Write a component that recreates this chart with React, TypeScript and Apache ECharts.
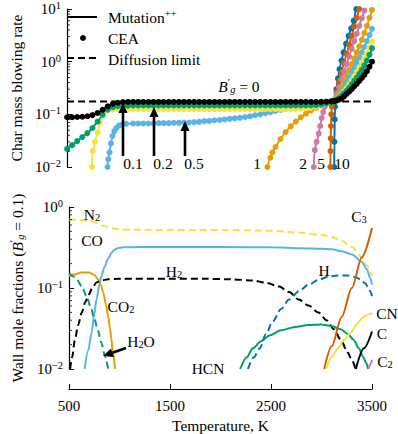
import React, { useEffect, useRef } from "react";
import * as echarts from "echarts";

const FONT = "Liberation Serif, DejaVu Serif, serif";

// ---------- Top panel: char blowing rate vs temperature for several B'_g ----------
const BG_LABELS = ["0", "0.1", "0.2", "0.5", "1", "2", "5", "10"];
const BG_COLORS = ["#000000", "#009E73", "#F0E442", "#56B4E9", "#E69F00", "#CC79A7", "#D55E00", "#0072B2"];

const BG0 = [[500,0.088],[550,0.088],[600,0.089],[650,0.09],[700,0.092],[750,0.097],[800,0.106],[850,0.122],[900,0.142],[950,0.158],[1000,0.166],[1050,0.17],[1100,0.172],[1150,0.172],[1200,0.172],[1250,0.172],[1300,0.172],[1350,0.172],[1400,0.172],[1450,0.172],[1500,0.172],[1550,0.172],[1600,0.172],[1650,0.172],[1700,0.172],[1750,0.172],[1800,0.172],[1850,0.172],[1900,0.172],[1950,0.172],[2000,0.172],[2050,0.172],[2100,0.172],[2150,0.172],[2200,0.172],[2250,0.172],[2300,0.172],[2350,0.172],[2400,0.172],[2450,0.172],[2500,0.172],[2550,0.172],[2600,0.172],[2650,0.172],[2700,0.172],[2750,0.172],[2800,0.172],[2850,0.172],[2900,0.172],[2950,0.172],[3000,0.173],[3050,0.174],[3100,0.176],[3125,0.178],[3150,0.182],[3175,0.19],[3200,0.2],[3225,0.22],[3250,0.245],[3275,0.27],[3300,0.3],[3325,0.34],[3350,0.38],[3375,0.43],[3400,0.49],[3425,0.56],[3450,0.66],[3475,0.8],[3500,1.0]];
const BG01 = [[500,0.022],[550,0.026],[600,0.031],[650,0.037],[700,0.044],[750,0.055],[800,0.073],[850,0.098],[900,0.123],[950,0.137],[1000,0.143],[1050,0.145],[1100,0.146],[1150,0.147],[1200,0.147],[1250,0.147],[1300,0.147],[1350,0.147],[1400,0.147],[1450,0.147],[1500,0.147],[1550,0.147],[1600,0.147],[1650,0.147],[1700,0.147],[1750,0.147],[1800,0.147],[1850,0.147],[1900,0.147],[1950,0.147],[2000,0.147],[2050,0.147],[2100,0.147],[2150,0.147],[2200,0.147],[2250,0.147],[2300,0.147],[2350,0.147],[2400,0.147],[2450,0.147],[2500,0.147],[2550,0.147],[2600,0.147],[2650,0.147],[2700,0.147],[2750,0.147],[2800,0.147],[2850,0.147],[2900,0.147],[2950,0.149],[3000,0.153],[3050,0.16],[3100,0.17],[3125,0.177],[3150,0.19],[3175,0.205],[3200,0.225],[3225,0.25],[3250,0.28],[3275,0.32],[3300,0.37],[3325,0.43],[3350,0.5],[3375,0.59],[3400,0.7],[3425,0.85],[3450,1.05],[3475,1.35],[3500,1.8]];
const BG02 = [[745,0.01],[752,0.02],[775,0.03],[800,0.045],[825,0.07],[850,0.097],[875,0.112],[900,0.12],[950,0.124],[1000,0.125],[1050,0.126],[1100,0.126],[1150,0.126],[1200,0.126],[1250,0.126],[1300,0.126],[1350,0.126],[1400,0.126],[1450,0.126],[1500,0.126],[1550,0.126],[1600,0.126],[1650,0.126],[1700,0.126],[1750,0.126],[1800,0.126],[1850,0.126],[1900,0.126],[1950,0.126],[2000,0.126],[2050,0.126],[2100,0.126],[2150,0.126],[2200,0.126],[2250,0.126],[2300,0.126],[2350,0.126],[2400,0.126],[2450,0.126],[2500,0.126],[2550,0.126],[2600,0.126],[2650,0.126],[2700,0.127],[2750,0.127],[2800,0.128],[2850,0.13],[2900,0.133],[2950,0.138],[3000,0.146],[3050,0.157],[3100,0.172],[3125,0.182],[3150,0.195],[3175,0.21],[3200,0.235],[3225,0.27],[3250,0.31],[3275,0.37],[3300,0.44],[3325,0.53],[3350,0.64],[3375,0.78],[3400,0.95],[3425,1.17],[3450,1.45],[3475,1.85],[3500,2.4]];
const BG05 = [[898,0.01],[905,0.014],[917,0.019],[932,0.028],[947,0.039],[965,0.048],[985,0.055],[1010,0.061],[1040,0.064],[1080,0.066],[1150,0.067],[1200,0.067],[1250,0.067],[1300,0.067],[1350,0.067],[1400,0.068],[1450,0.068],[1500,0.068],[1550,0.069],[1600,0.069],[1650,0.07],[1700,0.07],[1750,0.071],[1800,0.072],[1850,0.074],[1900,0.075],[1950,0.077],[2000,0.078],[2050,0.08],[2100,0.082],[2150,0.084],[2200,0.086],[2250,0.089],[2300,0.092],[2350,0.096],[2400,0.1],[2450,0.105],[2500,0.11],[2550,0.116],[2600,0.122],[2650,0.128],[2700,0.135],[2750,0.141],[2800,0.147],[2850,0.153],[2900,0.158],[2950,0.163],[3000,0.167],[3050,0.171],[3100,0.176],[3125,0.183],[3150,0.2],[3175,0.23],[3200,0.27],[3225,0.33],[3250,0.41],[3275,0.5],[3300,0.62],[3325,0.77],[3350,0.96],[3375,1.2],[3400,1.5],[3425,1.9],[3450,2.45],[3475,3.2],[3500,4.2]];
const BG1 = [[2470,0.01],[2500,0.015],[2520,0.019],[2550,0.024],[2600,0.034],[2650,0.046],[2700,0.059],[2750,0.073],[2800,0.088],[2850,0.103],[2900,0.118],[2950,0.132],[3000,0.147],[3050,0.162],[3100,0.175],[3125,0.182],[3150,0.21],[3175,0.26],[3200,0.33],[3225,0.42],[3250,0.54],[3275,0.7],[3300,0.9],[3325,1.15],[3350,1.5],[3375,1.95],[3400,2.6],[3425,3.5],[3450,4.8],[3475,6.8],[3500,9.6]];
const BG2 = [[2927,0.01],[2937,0.021],[2955,0.03],[2976,0.043],[2990,0.06],[3005,0.085],[3020,0.11],[3034,0.138],[3050,0.158],[3070,0.172],[3100,0.18],[3125,0.186],[3150,0.24],[3175,0.33],[3200,0.46],[3225,0.64],[3250,0.9],[3275,1.25],[3300,1.75],[3325,2.45],[3350,3.4],[3375,4.8],[3400,6.7],[3425,9.4],[3440,11.5]];
const BG5 = [[3090,0.01],[3092,0.02],[3094,0.035],[3097,0.06],[3100,0.1],[3105,0.14],[3112,0.165],[3125,0.182],[3150,0.27],[3175,0.42],[3200,0.63],[3225,0.95],[3250,1.4],[3275,2.1],[3300,3.1],[3325,4.6],[3350,6.8],[3375,10],[3385,11.5]];
const BG10 = [[3128,0.01],[3130,0.03],[3133,0.08],[3136,0.14],[3140,0.2],[3150,0.3],[3165,0.48],[3180,0.72],[3200,1.05],[3220,1.5],[3245,2.2],[3270,3.1],[3295,4.3],[3320,6],[3345,10],[3355,12]];
const BG_DATA = [BG0, BG01, BG02, BG05, BG1, BG2, BG5, BG10];

const DIFFUSION_LIMIT = [[500,0.175],[3500,0.175]];

// ---------- Bottom panel: wall mole fractions at B'_g = 0.1 ----------
const N2 = [[500,0.7],[600,0.69],[700,0.67],[750,0.65],[800,0.61],[850,0.58],[900,0.555],[950,0.54],[1000,0.53],[1100,0.525],[1500,0.52],[2000,0.52],[2500,0.51],[2800,0.48],[3000,0.45],[3100,0.43],[3200,0.38],[3300,0.32],[3400,0.24],[3450,0.19],[3500,0.14]];
const CO = [[655,0.01],[690,0.017],[723,0.028],[750,0.048],[771,0.072],[800,0.11],[820,0.14],[850,0.18],[887,0.23],[920,0.27],[945,0.295],[980,0.31],[1040,0.318],[1200,0.32],[2000,0.32],[2500,0.318],[2800,0.31],[3000,0.305],[3100,0.3],[3200,0.285],[3300,0.26],[3400,0.21],[3450,0.17],[3480,0.135],[3500,0.11]];
const CO2 = [[500,0.14],[550,0.147],[626,0.155],[700,0.155],[750,0.145],[790,0.127],[815,0.108],[839,0.088],[865,0.063],[887,0.045],[905,0.032],[917,0.024],[935,0.016],[955,0.01]];
const H2O = [[500,0.152],[540,0.14],[578,0.127],[625,0.105],[674,0.079],[715,0.058],[752,0.041],[785,0.03],[820,0.021],[855,0.0145],[887,0.01]];
const H2 = [[510,0.01],[530,0.014],[558,0.023],[590,0.035],[626,0.05],[660,0.067],[694,0.083],[730,0.1],[771,0.117],[820,0.124],[887,0.128],[1000,0.13],[1500,0.13],[1836,0.13],[2100,0.128],[2320,0.124],[2450,0.116],[2581,0.104],[2680,0.089],[2775,0.072],[2870,0.061],[2969,0.05],[3050,0.04],[3123,0.031],[3190,0.023],[3259,0.016],[3300,0.013],[3336,0.01]];
const H = [[2272,0.01],[2330,0.014],[2388,0.018],[2450,0.027],[2513,0.038],[2600,0.055],[2678,0.072],[2780,0.092],[2872,0.11],[2970,0.126],[3065,0.138],[3160,0.143],[3259,0.143],[3330,0.137],[3385,0.128],[3430,0.115],[3462,0.103],[3485,0.09],[3500,0.079]];
const HCN = [[2194,0.01],[2260,0.014],[2320,0.018],[2400,0.022],[2485,0.026],[2600,0.03],[2736,0.033],[2870,0.035],[2997,0.0355],[3100,0.034],[3191,0.031],[3260,0.027],[3317,0.023],[3370,0.018],[3414,0.014],[3440,0.012],[3462,0.01]];
const C3 = [[3027,0.01],[3100,0.019],[3200,0.044],[3300,0.1],[3400,0.24],[3500,0.55]];
const CN = [[3046,0.01],[3100,0.014],[3162,0.018],[3225,0.023],[3288,0.028],[3350,0.036],[3414,0.044],[3460,0.047],[3490,0.048],[3500,0.047]];
const C = [[3340,0.01],[3420,0.018],[3500,0.029]];
const C2 = [[3465,0.01],[3485,0.0115],[3500,0.013]];

const SPECIES = [
  { name: "N2", data: N2, color: "#F0E442", dashed: true },
  { name: "CO", data: CO, color: "#56B4E9", dashed: false },
  { name: "CO2", data: CO2, color: "#E69F00", dashed: false },
  { name: "H2O", data: H2O, color: "#009E73", dashed: true },
  { name: "H2", data: H2, color: "#000000", dashed: true },
  { name: "H", data: H, color: "#0072B2", dashed: true },
  { name: "HCN", data: HCN, color: "#009E73", dashed: false },
  { name: "C3", data: C3, color: "#D55E00", dashed: false },
  { name: "CN", data: CN, color: "#F0E442", dashed: false },
  { name: "C", data: C, color: "#000000", dashed: false },
  { name: "C2", data: C2, color: "#CC79A7", dashed: false },
];

const X_TICKS = [500, 1500, 2500, 3500];

const RICH = {
  b: { fontSize: 15, fontFamily: FONT, lineHeight: 18, color: "#000" },
  e: { fontSize: 10.5, fontFamily: FONT, lineHeight: 9, verticalAlign: "top", color: "#000" },
  s: { fontSize: 10.5, fontFamily: FONT, lineHeight: 9, verticalAlign: "bottom", color: "#000" },
  i: { fontSize: 15.5, fontFamily: FONT, fontStyle: "italic", lineHeight: 18, color: "#000" },
  si: { fontSize: 10.5, fontFamily: FONT, fontStyle: "italic", lineHeight: 9, verticalAlign: "bottom", color: "#000" },
  n: { fontSize: 15.5, fontFamily: FONT, lineHeight: 18, color: "#000" },
};

function powLabel(v: number) {
  const e = Math.round(Math.log10(v));
  return `{b|10}{e|${e < 0 ? "\u2212" + -e : e}}`;
}

function yAxisCommon(min: number, max: number) {
  return {
    type: "log",
    min,
    max,
    logBase: 10,
    axisLine: { show: true, lineStyle: { color: "#000", width: 1.2 } },
    axisTick: { show: true, inside: true, length: 5, lineStyle: { color: "#000", width: 1 } },
    splitLine: { show: false },
    axisLabel: { formatter: powLabel, rich: RICH, margin: 6, showMinLabel: true, showMaxLabel: true, fontFamily: FONT },
    nameLocation: "middle",
    nameRotate: 90,
  };
}

function buildOption() {
  const series: any[] = [];
  series.push({
    type: "line",
    xAxisIndex: 0,
    yAxisIndex: 0,
    data: DIFFUSION_LIMIT,
    showSymbol: false,
    lineStyle: { color: "#000", width: 2, type: [7, 4] },
    z: 2,
  });
  for (let i = BG_DATA.length - 1; i >= 0; i--) {
    series.push({
      type: "line",
      xAxisIndex: 0,
      yAxisIndex: 0,
      data: BG_DATA[i],
      smooth: 0.3,
      smoothMonotone: "x",
      showSymbol: true,
      showAllSymbol: true,
      symbol: "circle",
      symbolSize: 6,
      lineStyle: { color: BG_COLORS[i], width: 2 },
      itemStyle: { color: BG_COLORS[i] },
      z: 3,
      name: "Bg " + BG_LABELS[i],
    });
  }
  SPECIES.forEach((sp) => {
    series.push({
      type: "line",
      xAxisIndex: 1,
      yAxisIndex: 1,
      name: sp.name,
      data: sp.data,
      smooth: 0.3,
      smoothMonotone: "x",
      showSymbol: false,
      lineStyle: { color: sp.color, width: 2, type: sp.dashed ? [7, 4] : "solid" },
      z: 3,
    });
  });

  return {
    animation: false,
    textStyle: { fontFamily: FONT, color: "#000" },
    grid: [
      { left: 62, top: 5, width: 310, height: 162 },
      { left: 62, top: 207, width: 310, height: 164 },
    ],
    xAxis: [
      { type: "value", gridIndex: 0, min: 500, max: 3500, show: false },
      {
        type: "value",
        gridIndex: 1,
        min: 500,
        max: 3500,
        interval: 1000,
        offset: 20,
        axisLine: { show: true, lineStyle: { color: "#000", width: 1.2 } },
        axisTick: { show: true, inside: true, length: 5, customValues: X_TICKS, lineStyle: { color: "#000" } },
        axisLabel: {
          customValues: X_TICKS,
          formatter: (v: number) => String(v),
          fontSize: 15,
          fontFamily: FONT,
          color: "#000",
          margin: 9,
        },
        splitLine: { show: false },
        name: "Temperature, K",
        nameLocation: "middle",
        nameGap: 28,
        nameTextStyle: { fontSize: 15.5, fontFamily: FONT, color: "#000" },
      },
    ],
    yAxis: [
      {
        ...yAxisCommon(0.01, 10),
        gridIndex: 0,
        name: "Char mass blowing rate",
        nameGap: 40,
        nameTextStyle: { fontSize: 15.5, fontFamily: FONT, color: "#000" },
      },
      {
        ...yAxisCommon(0.01, 1),
        gridIndex: 1,
        name: "{n|Wall mole fractions (}{i|B}{e|\u2032}{si|g}{n| = 0.1)}",
        nameGap: 40,
        nameTextStyle: { fontSize: 15.5, fontFamily: FONT, color: "#000", rich: RICH },
      },
    ],
    series,
  };
}

function txt(text: string, x: number, y: number, align = "center", size = 15) {
  return {
    type: "text",
    z: 100,
    style: {
      text,
      x,
      y,
      align,
      verticalAlign: "middle",
      fontSize: size,
      fontFamily: FONT,
      fill: "#000",
      rich: RICH,
    },
  };
}

function arrow(x1: number, y1: number, x2: number, y2: number) {
  const dx = x2 - x1;
  const dy = y2 - y1;
  const len = Math.sqrt(dx * dx + dy * dy);
  const ux = dx / len;
  const uy = dy / len;
  const hl = 10;
  const hw = 4.5;
  const bx = x2 - ux * hl;
  const by = y2 - uy * hl;
  const px = -uy * hw;
  const py = ux * hw;
  return [
    { type: "line", z: 100, shape: { x1, y1, x2: bx, y2: by }, style: { stroke: "#000", lineWidth: 2.6 } },
    {
      type: "polygon",
      z: 100,
      shape: { points: [[bx + px, by + py], [x2, y2], [bx - px, by - py]] },
      style: { fill: "#000" },
    },
  ];
}

function sub(base: string, s: string) {
  return `{n|${base}}{s|${s}}`;
}

function buildGraphics(chart: any) {
  const els: any[] = [];
  // minor ticks on log axes
  const decades = [
    { g: 0, ds: [-2, -1, 0] },
    { g: 1, ds: [-2, -1] },
  ];
  decades.forEach(({ g, ds }) => {
    ds.forEach((d) => {
      for (let k = 2; k <= 9; k++) {
        const p = chart.convertToPixel({ gridIndex: g }, [500, k * Math.pow(10, d)]);
        if (!p) continue;
        els.push({
          type: "line",
          z: 50,
          shape: { x1: p[0], y1: p[1], x2: p[0] + 3, y2: p[1] },
          style: { stroke: "#000", lineWidth: 0.8 },
        });
      }
    });
  });

  // legend
  els.push({ type: "line", z: 100, shape: { x1: 67, y1: 17, x2: 97, y2: 17 }, style: { stroke: "#000", lineWidth: 2 } });
  els.push({ type: "circle", z: 100, shape: { cx: 83, cy: 38, r: 3 }, style: { fill: "#000" } });
  els.push({ type: "line", z: 100, shape: { x1: 67, y1: 58, x2: 97, y2: 58 }, style: { stroke: "#000", lineWidth: 2, lineDash: [7, 4] } });
  els.push(txt("{n|Mutation}{e|++}", 108, 17, "left", 15.5));
  els.push(txt("{n|CEA}", 108, 38, "left", 15.5));
  els.push(txt("{n|Diffusion limit}", 108, 59, "left", 15.5));

  // top annotations
  els.push(txt("{i|B}{e|\u2032}{si|g}{n| = 0}", 239, 86, "center"));
  els.push(txt("{n|0.1}", 133, 163));
  els.push(txt("{n|0.2}", 163, 163));
  els.push(txt("{n|0.5}", 194, 163));
  els.push(txt("{n|1}", 257, 163));
  els.push(txt("{n|2}", 303, 163));
  els.push(txt("{n|5}", 321, 163));
  els.push(txt("{n|10}", 342, 163));
  els.push(...arrow(123, 156, 123, 103));
  els.push(...arrow(154, 156, 154, 107));
  els.push(...arrow(185, 156, 185, 121));

  // bottom annotations
  els.push(txt(sub("N", "2"), 92, 214));
  els.push(txt("{n|CO}", 92, 240));
  els.push(txt(sub("H", "2"), 174, 271));
  els.push(txt(sub("CO", "2"), 121, 306));
  els.push(txt(sub("H", "2") + "{n|O}", 141, 341));
  els.push(...arrow(126, 348, 103, 356));
  els.push(txt("{n|HCN}", 208, 368));
  els.push(txt("{n|H}", 324, 270));
  els.push(txt(sub("C", "3"), 359, 216));
  els.push(txt("{n|CN}", 387, 313));
  els.push(txt("{n|C}", 382, 333));
  els.push(txt(sub("C", "2"), 385, 361));
  return els;
}

export default function App() {
  const ref = useRef<HTMLDivElement>(null);
  useEffect(() => {
    const chart = echarts.init(ref.current!, null, { renderer: "svg" });
    chart.setOption(buildOption() as any);
    chart.setOption({ graphic: buildGraphics(chart) } as any);
    return () => chart.dispose();
  }, []);
  return (
    <div
      ref={ref}
      style={{ position: "fixed", left: 0, top: 0, width: 398, height: 434, background: "#fff" }}
    />
  );
}
